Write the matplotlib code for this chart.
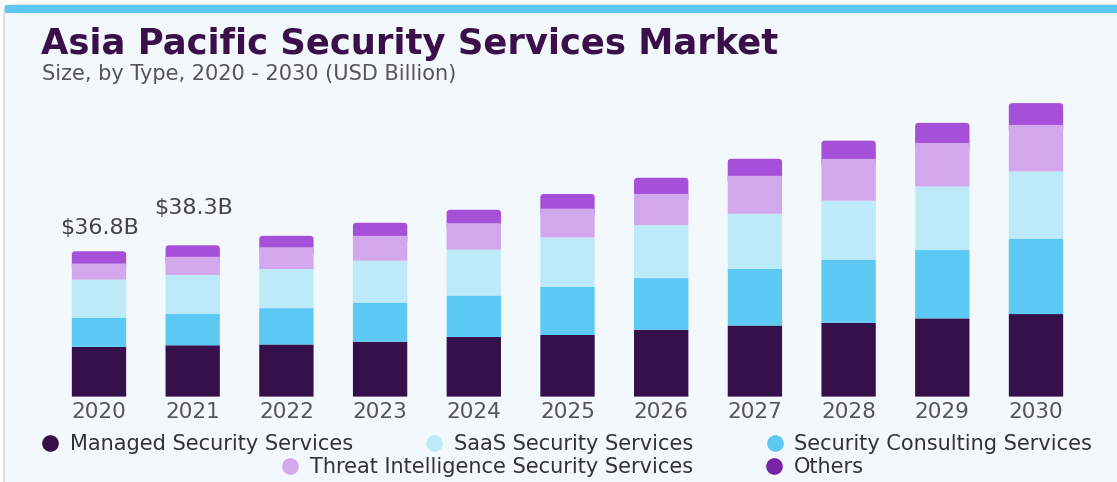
import numpy as np
import matplotlib.pyplot as plt
from matplotlib.patches import FancyBboxPatch, Rectangle
from matplotlib.lines import Line2D

# market size by type, USD billion
years = ['2020', '2021', '2022', '2023', '2024', '2025', '2026', '2027', '2028', '2029', '2030']
managed = [12.6, 13.0, 13.2, 13.9, 15.1, 15.6, 16.9, 18.0, 18.7, 19.8, 20.9]
consulting = [7.3, 8.0, 9.2, 9.9, 10.5, 12.2, 13.1, 14.4, 16.0, 17.3, 19.0]
saas = [9.7, 9.8, 9.9, 10.6, 11.6, 12.5, 13.4, 13.9, 14.9, 16.1, 17.1]
threat = [4.1, 4.6, 5.5, 6.3, 6.7, 7.3, 7.9, 9.6, 10.6, 11.0, 11.8]
others = [3.1, 2.9, 2.9, 3.3, 3.4, 3.7, 4.1, 4.3, 4.6, 5.1, 5.5]

W, H = 1117, 482
fig = plt.figure(figsize=(W / 100, H / 100), dpi=100)
fig.patch.set_facecolor('white')

# card background with cyan strip on top
card = FancyBboxPatch((4 / W, -0.1), 1.2, 1 - 5 / H + 0.1, boxstyle='round,pad=0,rounding_size=0.01',
                      transform=fig.transFigure, facecolor='#F3F8FC', edgecolor='#DADDE0', lw=1.2,
                      zorder=-10)
fig.add_artist(card)
fig.add_artist(Rectangle((5 / W, 1 - 12.5 / H), 1.0, 7.5 / H, transform=fig.transFigure,
                         facecolor='#5CC8F2', edgecolor='none', zorder=-9))

fig.text(41 / W, 1 - 54 / H, 'Asia Pacific Security Services Market', fontsize=25.5, fontweight='heavy',
         color='#3A0F4A', va='baseline', ha='left')
fig.text(42 / W, 1 - 80 / H, 'Size, by Type, 2020 - 2030 (USD Billion)', fontsize=15,
         color='#555555', va='baseline', ha='left')

# axes placed so bars land on a fixed pixel grid
base_px, scale = 396.6, 3.95
top_px = 20
ax = fig.add_axes([0, (H - base_px) / H, 1, (base_px - top_px) / H])
ax.set_facecolor('none')
x = np.arange(len(years))
px_x = 93.7
ax.set_xlim(-99 / px_x, (W - 99) / px_x)
ax.set_ylim(0, (base_px - top_px) / scale)

series = [(managed, '#36104A'), (consulting, '#5CC9F5'), (saas, '#BDEAF9'),
          (threat, '#D3A7EC'), (others, '#A64FD9')]
bottom = np.zeros(len(years))
for k, (vals, col) in enumerate(series):
    bars = ax.bar(x, vals, width=0.58, bottom=bottom, color=col, edgecolor='none', snap=False)
    if k == len(series) - 1:
        # round the top corners of each stack
        r = 3.5 / px_x
        for b in bars:
            b.set_visible(False)
            ax.add_patch(FancyBboxPatch((b.get_x(), b.get_y() - 2), b.get_width(), b.get_height() + 2,
                                        boxstyle=f'round,pad=0,rounding_size={r}',
                                        mutation_aspect=px_x / scale, facecolor=col,
                                        edgecolor='none', zorder=0.5, snap=False))
    bottom += np.array(vals)

totals = bottom
for i, dy in [(0, 23), (1, 37)]:
    ax.annotate(f'${totals[i]:.1f}B', (x[i], totals[i]), xytext=(1, dy), textcoords='offset pixels',
                ha='center', va='center', fontsize=16, color='#444444')

ax.set_xticks(x)
ax.set_xticklabels(years, fontsize=15.5, color='#555555')
ax.tick_params(axis='x', length=0, pad=4)
ax.set_yticks([])
for s in ax.spines.values():
    s.set_visible(False)

names1 = ['Managed Security Services', 'SaaS Security Services', 'Security Consulting Services']
cols1 = ['#36104A', '#BDEAF9', '#5CC9F5']
names2 = ['Threat Intelligence Security Services', 'Others']
cols2 = ['#D3A7EC', '#7A22A6']


def make_handles(cols):
    return [Line2D([], [], marker='o', ls='none', markersize=12, markerfacecolor=c, markeredgecolor='none')
            for c in cols]


leg_kw = dict(frameon=False, fontsize=15, labelcolor='#333333', handletextpad=0.45,
              columnspacing=3.4, handlelength=1.0, loc='center')
leg1 = fig.legend(make_handles(cols1), names1, ncol=3, bbox_to_anchor=(566 / W, 1 - 444 / H), **leg_kw)
leg2 = fig.legend(make_handles(cols2), names2, ncol=2, bbox_to_anchor=(572 / W, 1 - 467 / H), **leg_kw)

fig.savefig('out.png', dpi=100, facecolor=fig.get_facecolor())
